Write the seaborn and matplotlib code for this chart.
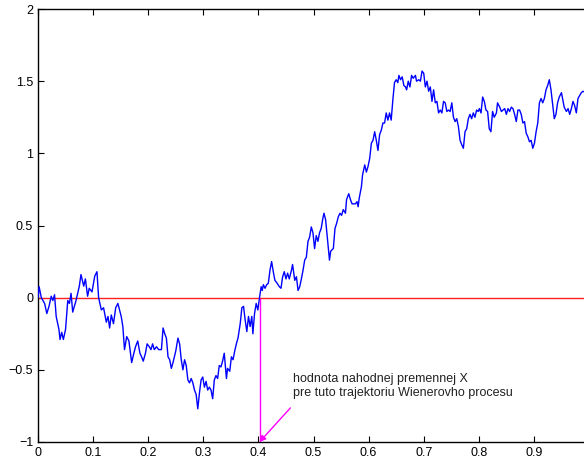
import matplotlib
matplotlib.use("Agg")
import matplotlib.pyplot as plt
import seaborn as sns
import pandas as pd

# Sample path of a Wiener process W(t) on [0, 1]
t = [
    0.000, 0.002, 0.006, 0.012, 0.016, 0.020, 0.024, 0.027, 0.030, 0.033,
    0.038, 0.040, 0.043, 0.046, 0.050, 0.054, 0.057, 0.060, 0.063, 0.066,
    0.069, 0.075, 0.078, 0.083, 0.086, 0.090, 0.093, 0.098, 0.103, 0.107,
    0.110, 0.115, 0.119, 0.124, 0.127, 0.130, 0.133, 0.137, 0.141, 0.145,
    0.148, 0.151, 0.154, 0.157, 0.161, 0.165, 0.167, 0.170, 0.173, 0.177,
    0.181, 0.185, 0.188, 0.191, 0.195, 0.198, 0.202, 0.205, 0.208, 0.211,
    0.215, 0.219, 0.224, 0.227, 0.230, 0.233, 0.236, 0.239, 0.242, 0.245,
    0.250, 0.254, 0.257, 0.260, 0.263, 0.266, 0.269, 0.272, 0.275, 0.278,
    0.281, 0.284, 0.287, 0.290, 0.293, 0.296, 0.299, 0.302, 0.305, 0.308,
    0.311, 0.314, 0.317, 0.320, 0.323, 0.326, 0.329, 0.332, 0.335, 0.338,
    0.342, 0.344, 0.348, 0.351, 0.354, 0.357, 0.360, 0.363, 0.367, 0.370,
    0.373, 0.376, 0.379, 0.382, 0.385, 0.388, 0.390, 0.393, 0.396, 0.399,
    0.402, 0.405, 0.407, 0.409, 0.412, 0.415, 0.418, 0.421, 0.424, 0.427,
    0.430, 0.434, 0.438, 0.441, 0.444, 0.447, 0.450, 0.453, 0.456, 0.460,
    0.462, 0.466, 0.469, 0.472, 0.475, 0.478, 0.481, 0.484, 0.487, 0.490,
    0.493, 0.496, 0.499, 0.502, 0.505, 0.508, 0.511, 0.514, 0.517, 0.519,
    0.522, 0.526, 0.529, 0.531, 0.533, 0.536, 0.539, 0.542, 0.545, 0.548,
    0.551, 0.554, 0.558, 0.560, 0.564, 0.567, 0.570, 0.573, 0.576, 0.579,
    0.581, 0.583, 0.587, 0.589, 0.593, 0.596, 0.599, 0.602, 0.605, 0.608,
    0.611, 0.614, 0.617, 0.620, 0.623, 0.626, 0.629, 0.632, 0.635, 0.638,
    0.641, 0.644, 0.647, 0.650, 0.653, 0.655, 0.658, 0.661, 0.664, 0.667,
    0.669, 0.672, 0.675, 0.678, 0.681, 0.685, 0.687, 0.691, 0.694, 0.697,
    0.700, 0.703, 0.706, 0.709, 0.712, 0.715, 0.718, 0.721, 0.724, 0.727,
    0.730, 0.733, 0.736, 0.739, 0.742, 0.745, 0.748, 0.751, 0.754, 0.757,
    0.760, 0.763, 0.766, 0.769, 0.772, 0.775, 0.778, 0.781, 0.784, 0.787,
    0.790, 0.793, 0.796, 0.799, 0.801, 0.804, 0.807, 0.810, 0.813, 0.816,
    0.819, 0.822, 0.825, 0.828, 0.832, 0.834, 0.838, 0.841, 0.844, 0.847,
    0.850, 0.853, 0.856, 0.859, 0.862, 0.865, 0.868, 0.871, 0.874, 0.877,
    0.880, 0.883, 0.886, 0.889, 0.892, 0.895, 0.898, 0.901, 0.904, 0.907,
    0.910, 0.913, 0.916, 0.919, 0.922, 0.925, 0.928, 0.931, 0.934, 0.937,
    0.940, 0.943, 0.946, 0.950, 0.953, 0.955, 0.959, 0.962, 0.965, 0.968,
    0.971, 0.974, 0.977, 0.980, 0.983, 0.986, 0.989, 1.000,
]
w = [
    0.000, 0.076, 0.000, -0.040, -0.110, -0.060, 0.010, -0.020, 0.020, -0.130,
    -0.220, -0.290, -0.240, -0.290, -0.220, -0.020, -0.040, 0.030, -0.100, -0.060,
    -0.020, 0.080, 0.160, 0.080, 0.130, 0.010, 0.065, 0.040, 0.150, 0.180,
    0.000, -0.085, -0.070, -0.170, -0.130, -0.210, -0.120, -0.180, -0.070, -0.040,
    -0.085, -0.130, -0.200, -0.360, -0.270, -0.300, -0.360, -0.450, -0.400, -0.340,
    -0.300, -0.385, -0.410, -0.440, -0.385, -0.320, -0.340, -0.360, -0.320, -0.360,
    -0.340, -0.360, -0.360, -0.210, -0.250, -0.280, -0.410, -0.430, -0.490, -0.450,
    -0.370, -0.280, -0.320, -0.430, -0.500, -0.430, -0.470, -0.570, -0.590, -0.560,
    -0.590, -0.640, -0.670, -0.770, -0.660, -0.570, -0.550, -0.620, -0.580, -0.640,
    -0.620, -0.640, -0.700, -0.570, -0.540, -0.560, -0.470, -0.480, -0.440, -0.385,
    -0.560, -0.490, -0.510, -0.410, -0.430, -0.370, -0.320, -0.280, -0.180, -0.070,
    -0.060, -0.155, -0.235, -0.130, -0.200, -0.130, -0.250, -0.110, -0.040, -0.085,
    0.000, 0.076, 0.050, 0.090, 0.065, 0.090, 0.100, 0.190, 0.250, 0.180,
    0.120, 0.100, 0.076, 0.065, 0.145, 0.180, 0.130, 0.170, 0.130, 0.190,
    0.230, 0.120, 0.145, 0.050, 0.076, 0.130, 0.190, 0.260, 0.280, 0.390,
    0.420, 0.490, 0.450, 0.340, 0.430, 0.390, 0.450, 0.480, 0.550, 0.585,
    0.540, 0.380, 0.260, 0.320, 0.330, 0.340, 0.480, 0.515, 0.560, 0.585,
    0.570, 0.610, 0.585, 0.680, 0.720, 0.680, 0.650, 0.650, 0.650, 0.665,
    0.630, 0.690, 0.770, 0.850, 0.920, 0.870, 0.910, 0.965, 1.070, 1.090,
    1.150, 1.090, 1.020, 1.130, 1.160, 1.210, 1.210, 1.280, 1.230, 1.280,
    1.230, 1.370, 1.490, 1.510, 1.490, 1.540, 1.510, 1.530, 1.470, 1.460,
    1.440, 1.500, 1.460, 1.540, 1.520, 1.540, 1.500, 1.510, 1.500, 1.570,
    1.555, 1.460, 1.500, 1.430, 1.460, 1.360, 1.440, 1.350, 1.360, 1.280,
    1.300, 1.280, 1.360, 1.350, 1.290, 1.300, 1.290, 1.350, 1.250, 1.220,
    1.240, 1.185, 1.090, 1.060, 1.035, 1.150, 1.170, 1.240, 1.270, 1.240,
    1.280, 1.250, 1.300, 1.290, 1.310, 1.280, 1.390, 1.360, 1.300, 1.290,
    1.170, 1.150, 1.290, 1.250, 1.280, 1.350, 1.320, 1.290, 1.300, 1.310,
    1.270, 1.310, 1.290, 1.320, 1.310, 1.270, 1.220, 1.300, 1.300, 1.270,
    1.210, 1.220, 1.140, 1.115, 1.080, 1.090, 1.035, 1.070, 1.150, 1.210,
    1.350, 1.380, 1.350, 1.380, 1.440, 1.470, 1.510, 1.440, 1.340, 1.240,
    1.270, 1.350, 1.390, 1.420, 1.360, 1.320, 1.290, 1.310, 1.270, 1.310,
    1.360, 1.330, 1.280, 1.380, 1.400, 1.420, 1.430, 1.410,
]

# First time the path returns to zero after dropping below it
X = 0.402

x_ticks = [0, 0.1, 0.2, 0.3, 0.4, 0.5, 0.6, 0.7, 0.8, 0.9]
x_ticklabels = ["0", "0.1", "0.2", "0.3", "0.4", "0.5", "0.6", "0.7", "0.8", "0.9"]
y_ticks = [-1, -0.5, 0, 0.5, 1, 1.5, 2]
y_ticklabels = ["\u22121", "\u22120.5", "0", "0.5", "1", "1.5", "2"]

note = "hodnota nahodnej premennej X\npre tuto trajektoriu Wienerovho procesu"

sns.set_style("ticks")
plt.rcParams["font.family"] = ["Liberation Sans", "DejaVu Sans"]

fig = plt.figure(figsize=(5.84, 4.63), dpi=100)
ax = fig.add_axes([38 / 584, 21 / 463, 551 / 584, 433 / 463])

df = pd.DataFrame({"t": t, "W": w})
sns.lineplot(data=df, x="t", y="W", ax=ax, color="#0000ff", linewidth=1.0,
             estimator=None, sort=False, zorder=3)

ax.axhline(0, color="#ff2020", linewidth=1.0, zorder=2)
ax.vlines(X, -1, 0, color="#ff00ff", linewidth=1.0, zorder=4)
ax.annotate("", xy=(X, -1), xytext=(0.458, -0.764),
            arrowprops=dict(arrowstyle="-|>", color="#ff00ff", lw=1.0,
                            mutation_scale=9, shrinkA=0, shrinkB=0),
            zorder=5, annotation_clip=False)
ax.text(0.462, -0.522, note, fontsize=9, va="top", ha="left",
        color="#222222", linespacing=1.2)

ax.set_xlim(0, 1)
ax.set_ylim(-1, 2)
ax.set_xticks(x_ticks)
ax.set_xticklabels(x_ticklabels)
ax.set_yticks(y_ticks)
ax.set_yticklabels(y_ticklabels)
ax.set_xlabel("")
ax.set_ylabel("")

for side in ["top", "right", "left", "bottom"]:
    ax.spines[side].set_visible(True)
    ax.spines[side].set_linewidth(1.0)
    ax.spines[side].set_color("black")
ax.tick_params(direction="in", length=4.5, width=0.8, labelsize=9,
               top=True, right=False, colors="black", pad=3.5)

fig.savefig("out.png", dpi=100)
